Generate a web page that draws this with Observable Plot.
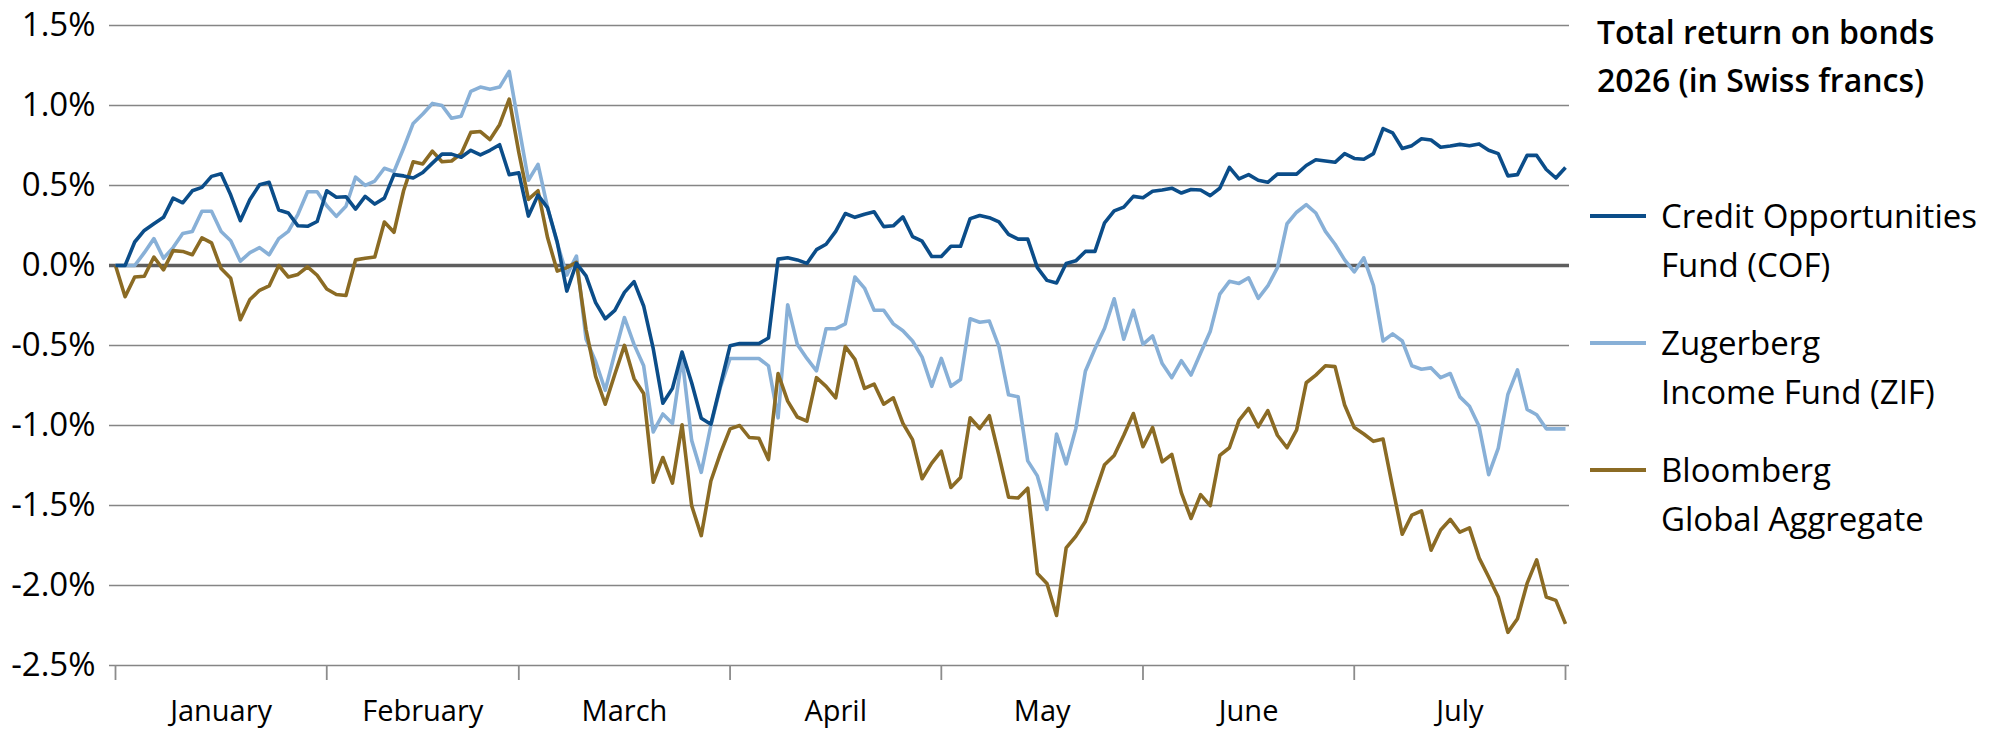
<!DOCTYPE html>
<html>
<head>
<meta charset="utf-8">
<script src="https://cdn.jsdelivr.net/npm/d3@7"></script>
<script src="https://cdn.jsdelivr.net/npm/@observablehq/plot@0.6"></script>
<style>
  html, body { margin: 0; padding: 0; background: #fff; }
  #wrap { position: relative; width: 2000px; height: 753px; overflow: hidden; background: #fff; }
  #chart { position: absolute; left: 0; top: 0; }
  #overlay { position: absolute; left: 0; top: 0; }
  text { font-family: "Open Sans", sans-serif; }
</style>
</head>
<body>
<div id="wrap">
  <div id="chart"></div>
  <svg id="overlay" width="2000" height="753" xmlns="http://www.w3.org/2000/svg"></svg>
</div>
<script>
// ---- Data (total return in %) ----
const months = ["January", "February", "March", "April", "May", "June", "July"];
const startDate = "2026-01-01";
const endDate = "2026-07-31";
const yTicks = [1.5, 1.0, 0.5, 0.0, -0.5, -1.0, -1.5, -2.0, -2.5];

const seriesNames = ["Credit Opportunities Fund (COF)", "Zugerberg Income Fund (ZIF)", "Bloomberg Global Aggregate"];
const legendLines = [["Credit Opportunities", "Fund (COF)"], ["Zugerberg", "Income Fund (ZIF)"], ["Bloomberg", "Global Aggregate"]];
const seriesColors = ["#0b4d89", "#88b0d7", "#8b6b24"];

const cof = [
  0, 0, 0.147, 0.219, 0.261, 0.301, 0.421, 0.392, 0.467, 0.488,
  0.557, 0.573, 0.44, 0.28, 0.413, 0.504, 0.52, 0.347, 0.328, 0.248,
  0.245, 0.275, 0.467, 0.427, 0.43, 0.352, 0.432, 0.384, 0.421, 0.568,
  0.56, 0.547, 0.581, 0.64, 0.696, 0.696, 0.677, 0.72, 0.691, 0.72,
  0.755, 0.568, 0.579, 0.309, 0.44, 0.36, 0.147, -0.16, 0.013, -0.065,
  -0.232, -0.333, -0.28, -0.168, -0.101, -0.253, -0.52, -0.861, -0.768, -0.541,
  -0.733, -0.955, -0.992, -0.747, -0.501, -0.488, -0.488, -0.488, -0.453, 0.04,
  0.048, 0.035, 0.013, 0.099, 0.133, 0.213, 0.325, 0.301, 0.32, 0.336,
  0.243, 0.248, 0.304, 0.181, 0.152, 0.056, 0.056, 0.12, 0.12, 0.293,
  0.312, 0.299, 0.272, 0.195, 0.165, 0.165, -0.013, -0.093, -0.109, 0.013,
  0.029, 0.088, 0.088, 0.267, 0.341, 0.365, 0.432, 0.424, 0.464, 0.472,
  0.483, 0.453, 0.475, 0.472, 0.437, 0.483, 0.613, 0.541, 0.568, 0.533,
  0.52, 0.571, 0.571, 0.571, 0.625, 0.661, 0.653, 0.645, 0.699, 0.669,
  0.664, 0.699, 0.856, 0.829, 0.731, 0.749, 0.792, 0.784, 0.739, 0.747,
  0.757, 0.749, 0.76, 0.72, 0.699, 0.56, 0.568, 0.688, 0.688, 0.6,
  0.547, 0.613
];

const zif = [
  0, 0, 0, 0.08, 0.168, 0.045, 0.112, 0.2, 0.213, 0.339,
  0.339, 0.213, 0.155, 0.027, 0.08, 0.112, 0.067, 0.168, 0.213, 0.32,
  0.461, 0.461, 0.373, 0.307, 0.37, 0.552, 0.501, 0.528, 0.608, 0.587,
  0.733, 0.888, 0.947, 1.013, 1.0, 0.92, 0.933, 1.088, 1.115, 1.101,
  1.115, 1.213, 0.87, 0.533, 0.632, 0.36, 0.14, -0.06, 0.059, -0.46,
  -0.6, -0.78, -0.547, -0.325, -0.493, -0.627, -1.04, -0.928, -0.987, -0.573,
  -1.093, -1.293, -1.0, -0.76, -0.581, -0.581, -0.581, -0.581, -0.627, -0.952,
  -0.245, -0.493, -0.581, -0.659, -0.395, -0.395, -0.365, -0.072, -0.141, -0.28,
  -0.28, -0.365, -0.408, -0.472, -0.573, -0.755, -0.581, -0.755, -0.712, -0.333,
  -0.355, -0.347, -0.507, -0.808, -0.821, -1.221, -1.315, -1.525, -1.053, -1.24,
  -1.021, -0.661, -0.52, -0.392, -0.208, -0.461, -0.28, -0.493, -0.44, -0.613,
  -0.701, -0.595, -0.685, -0.547, -0.413, -0.179, -0.099, -0.112, -0.077, -0.205,
  -0.128, -0.013, 0.261, 0.333, 0.381, 0.328, 0.213, 0.133, 0.035, -0.04,
  0.048, -0.125, -0.472, -0.427, -0.472, -0.627, -0.648, -0.64, -0.701, -0.675,
  -0.821, -0.88, -1.005, -1.307, -1.141, -0.805, -0.653, -0.899, -0.933, -1.021,
  -1.021, -1.021
];

const bloomberg = [
  0, -0.195, -0.072, -0.067, 0.053, -0.027, 0.093, 0.088, 0.067, 0.173,
  0.141, -0.019, -0.08, -0.339, -0.213, -0.155, -0.128, 0, -0.072, -0.056,
  -0.008, -0.061, -0.147, -0.181, -0.187, 0.035, 0.045, 0.053, 0.272, 0.208,
  0.467, 0.648, 0.635, 0.715, 0.648, 0.653, 0.699, 0.832, 0.837, 0.787,
  0.88, 1.04, 0.707, 0.413, 0.467, 0.173, -0.035, -0.013, 0.019, -0.4,
  -0.693, -0.867, -0.68, -0.499, -0.707, -0.8, -1.355, -1.2, -1.36, -0.995,
  -1.501, -1.688, -1.347, -1.173, -1.021, -1.0, -1.075, -1.08, -1.213, -0.675,
  -0.848, -0.947, -0.973, -0.701, -0.755, -0.827, -0.507, -0.587, -0.768, -0.741,
  -0.867, -0.827, -0.987, -1.088, -1.333, -1.235, -1.16, -1.387, -1.325, -0.952,
  -1.019, -0.939, -1.187, -1.448, -1.453, -1.392, -1.925, -1.987, -2.187, -1.765,
  -1.693, -1.6, -1.421, -1.245, -1.187, -1.061, -0.925, -1.133, -1.013, -1.227,
  -1.181, -1.421, -1.581, -1.432, -1.501, -1.187, -1.139, -0.968, -0.893, -1.008,
  -0.907, -1.061, -1.139, -1.027, -0.733, -0.685, -0.627, -0.632, -0.872, -1.013,
  -1.053, -1.099, -1.085, -1.387, -1.68, -1.56, -1.533, -1.779, -1.653, -1.587,
  -1.667, -1.64, -1.827, -1.947, -2.072, -2.293, -2.208, -1.987, -1.84, -2.072,
  -2.093, -2.24
];

// ---- Trading-day calendar (weekdays), positions are by trading-day index ----
const days = d3.utcDays(new Date(startDate), d3.utcDay.offset(new Date(endDate), 1))
  .filter(d => d.getUTCDay() !== 0 && d.getUTCDay() !== 6);
const lastIdx = days.length - 1;
const boundaries = [];
days.forEach((d, i) => { if (i === 0 || d.getUTCMonth() !== days[i - 1].getUTCMonth()) boundaries.push(i); });
const tickIdx = [...boundaries, lastIdx];
const mids = boundaries.map((b, k) => (b + tickIdx[k + 1]) / 2);

const rows = [];
const allSeries = [cof, zif, bloomberg];
allSeries.forEach((vals, s) => vals.forEach((v, i) => rows.push({i, date: days[i], v, s: seriesNames[s]})));
const drawOrder = [1, 2, 0];

const chart = Plot.plot({
  width: 1575,
  height: 753,
  marginLeft: 109,
  marginRight: 6,
  marginTop: 25,
  marginBottom: 88,
  insetLeft: 6,
  insetRight: 4,
  style: {fontFamily: "'Open Sans', sans-serif", background: "#fff", color: "#000", overflow: "visible"},
  x: {type: "linear", domain: [0, lastIdx]},
  y: {domain: [-2.5, 1.5]},
  color: {domain: seriesNames, range: seriesColors},
  marks: [
    Plot.ruleY(yTicks.filter(d => d !== 0), {stroke: "#858585", strokeWidth: 1.5}),
    Plot.axisY({ticks: yTicks, tickSize: 0, tickPadding: 14, fontSize: 33, label: null,
      tickFormat: d => d.toFixed(1) + "%"}),
    Plot.axisX({ticks: tickIdx, tickSize: 15, tickFormat: () => "", stroke: "#8c8c8c", strokeWidth: 1.8, label: null}),
    Plot.axisX({ticks: mids, tickSize: 0, tickPadding: 35, fontSize: 29, label: null,
      tickFormat: d => months[mids.indexOf(d)]}),
    Plot.ruleY([0], {stroke: "#5e5e5e", strokeWidth: 3.5}),
    ...drawOrder.map(s => Plot.lineY(rows.filter(r => r.s === seriesNames[s]), {
      x: "i", y: "v", stroke: "s", strokeWidth: 3.6, strokeLinejoin: "round", strokeLinecap: "butt"
    }))
  ]
});
document.getElementById("chart").appendChild(chart);

// ---- Title and legend ----
const ov = d3.select("#overlay");
const title = ov.append("text").attr("x", 1597).attr("font-size", 32).attr("font-weight", 600).attr("fill", "#000");
title.append("tspan").attr("x", 1597).attr("y", 43.5).text("Total return on bonds");
title.append("tspan").attr("x", 1597).attr("y", 91.5).text("2026 (in Swiss francs)");

const swatchY = [216, 343, 470];
legendLines.forEach((lines, k) => {
  ov.append("line").attr("x1", 1590).attr("x2", 1646).attr("y1", swatchY[k]).attr("y2", swatchY[k])
    .attr("stroke", seriesColors[k]).attr("stroke-width", 4);
  const t = ov.append("text").attr("font-size", 33).attr("fill", "#000");
  lines.forEach((ln, j) => t.append("tspan").attr("x", 1661).attr("y", swatchY[k] + 12 + j * 48.5).text(ln));
});
</script>
</body>
</html>
